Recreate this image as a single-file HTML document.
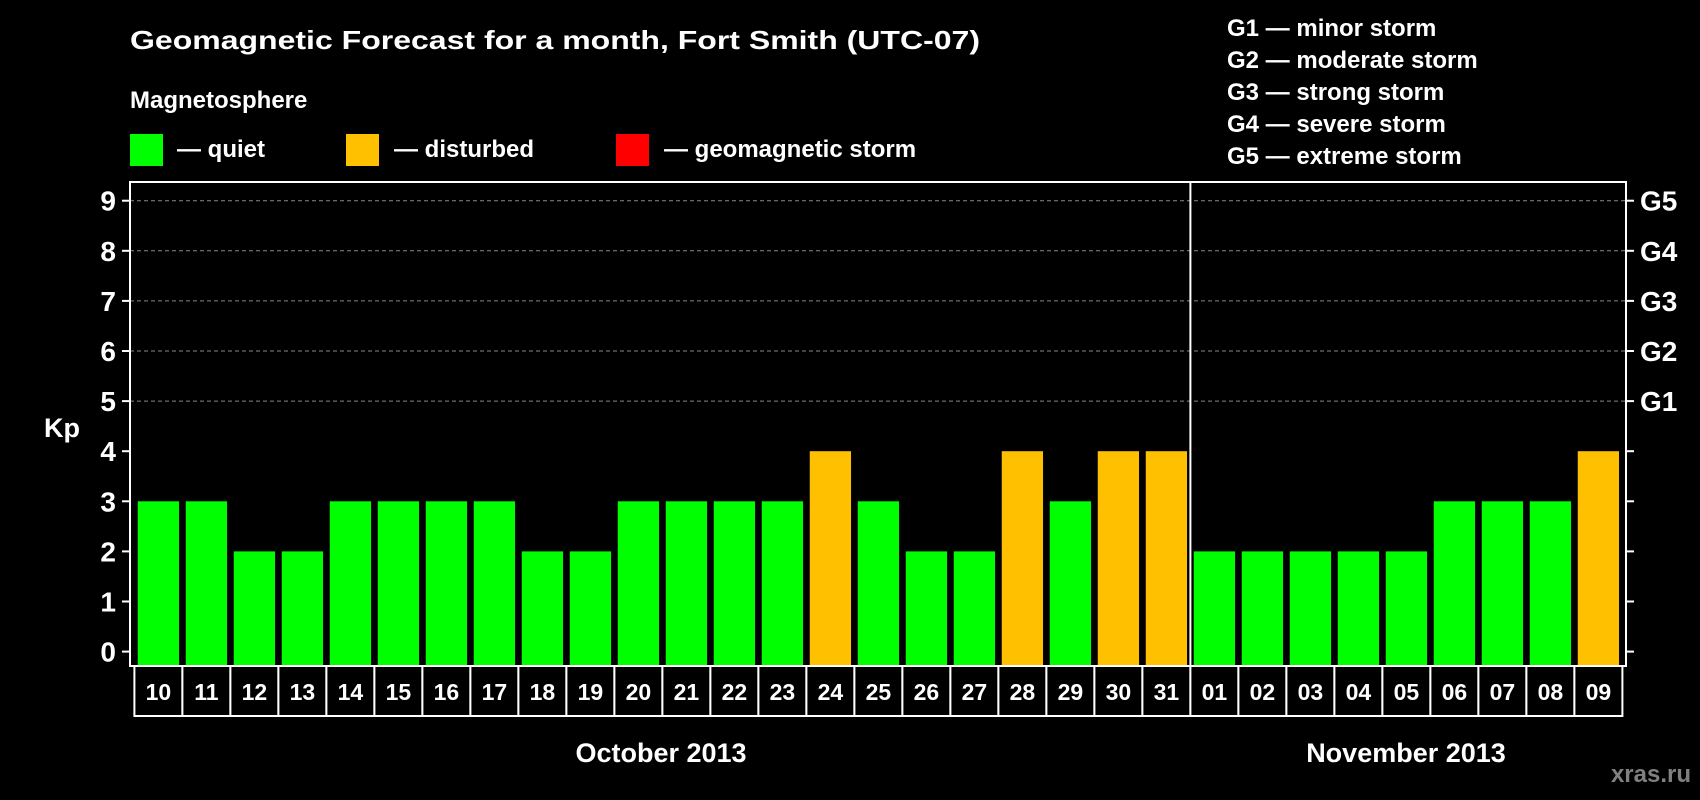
<!DOCTYPE html>
<html><head><meta charset="utf-8"><style>
html,body{margin:0;padding:0;background:#000;}
svg{display:block;font-family:"Liberation Sans",Arial,sans-serif;font-weight:bold;}
</style></head><body>
<svg id="chart" width="1700" height="800" viewBox="0 0 1700 800">
<rect x="0" y="0" width="1700" height="800" fill="#000"/>
<text x="130" y="49" fill="#fff" font-size="26" textLength="850" lengthAdjust="spacingAndGlyphs">Geomagnetic Forecast for a month, Fort Smith (UTC-07)</text>
<text x="130" y="108" fill="#fff" font-size="24">Magnetosphere</text>
<g>
<rect x="130" y="134" width="33" height="32" fill="#00ff00"/>
<text x="177" y="157" fill="#fff" font-size="24">— quiet</text></g>
<g>
<rect x="346" y="134" width="33" height="32" fill="#ffc000"/>
<text x="394" y="157" fill="#fff" font-size="24">— disturbed</text></g>
<g>
<rect x="616" y="134" width="33" height="32" fill="#ff0000"/>
<text x="664" y="157" fill="#fff" font-size="24">— geomagnetic storm</text></g>
<g fill="#fff" font-size="24">
<text x="1227" y="36">G1 — minor storm</text>
<text x="1227" y="68">G2 — moderate storm</text>
<text x="1227" y="100">G3 — strong storm</text>
<text x="1227" y="132">G4 — severe storm</text>
<text x="1227" y="164">G5 — extreme storm</text>
</g>
<g id="plot"></g>
<text x="661" y="762" fill="#fff" font-size="27" text-anchor="middle">October 2013</text>
<text x="1406" y="762" fill="#fff" font-size="27" text-anchor="middle">November 2013</text>
<text x="1691" y="782" fill="#808080" font-size="24" text-anchor="end">xras.ru</text>
<text x="62" y="437" fill="#fff" font-size="27" text-anchor="middle">Kp</text>
</svg>
<script>
const days = ["10","11","12","13","14","15","16","17","18","19","20","21","22","23","24","25","26","27","28","29","30","31","01","02","03","04","05","06","07","08","09"];
const kpValues = [3,3,2,2,3,3,3,3,2,2,3,3,3,3,4,3,2,2,4,3,4,4,2,2,2,2,2,3,3,3,4];
const yTicks = [0,1,2,3,4,5,6,7,8,9];
const gLabels = ["G1","G2","G3","G4","G5"];
const gLevels = [5,6,7,8,9];
const monthBreakIndex = 22;

const NS = "http://www.w3.org/2000/svg";
const plot = document.getElementById("plot");
const L = 130, R = 1626, T = 182, B = 666;
const x0 = 134.4, slot = 48.0;
const yScale = v => 651.6 - v * 50.1;
const xScale = i => x0 + i * slot;
function mk(tag, attrs) {
  const e = document.createElementNS(NS, tag);
  for (const k in attrs) e.setAttribute(k, attrs[k]);
  plot.appendChild(e);
  return e;
}
// grid
gLevels.forEach(v => {
  const g = mk("line", {x1: L, x2: R, y1: yScale(v), y2: yScale(v), stroke: "#888", "stroke-width": 1, "stroke-dasharray": "4,3"});
  
  
});
// bars
kpValues.forEach((v, i) => {
  const bw = slot * 0.86;
  const r = mk("rect", {x: xScale(i) + (slot - bw) / 2, y: yScale(v), width: bw, height: B - yScale(v),
    fill: v >= 5 ? "#ff0000" : (v >= 4 ? "#ffc000" : "#00ff00")});
  
  
});
// frame
const fr = mk("rect", {x: L, y: T, width: R - L, height: B - T, fill: "none", stroke: "#fff", "stroke-width": 2});


const dv = mk("line", {x1: xScale(monthBreakIndex), x2: xScale(monthBreakIndex), y1: T, y2: B, stroke: "#fff", "stroke-width": 2});


// y ticks
yTicks.forEach(v => {
  const y = yScale(v);
  const t1 = mk("line", {x1: L - 8, x2: L, y1: y, y2: y, stroke: "#fff", "stroke-width": 2});
  
  
  const t2 = mk("line", {x1: R, x2: R + 8, y1: y, y2: y, stroke: "#fff", "stroke-width": 2});
  
  
  const tx = mk("text", {x: 116, y: y + 10, fill: "#fff", "font-size": 28, "text-anchor": "end"});
  tx.textContent = v;
  
  
});
gLabels.forEach((g, i) => {
  const t = mk("text", {x: 1640, y: yScale(gLevels[i]) + 10, fill: "#fff", "font-size": 28});
  t.textContent = g;
  
  
});
// date boxes
days.forEach((d, i) => {
  const b = mk("rect", {x: xScale(i), y: B, width: slot, height: 50, fill: "#000", stroke: "#fff", "stroke-width": 2});
  
  
  const t = mk("text", {x: xScale(i) + slot / 2, y: B + 34, fill: "#fff", "font-size": 23, "text-anchor": "middle"});
  t.textContent = d;
  
  
});
</script>
</body></html>
